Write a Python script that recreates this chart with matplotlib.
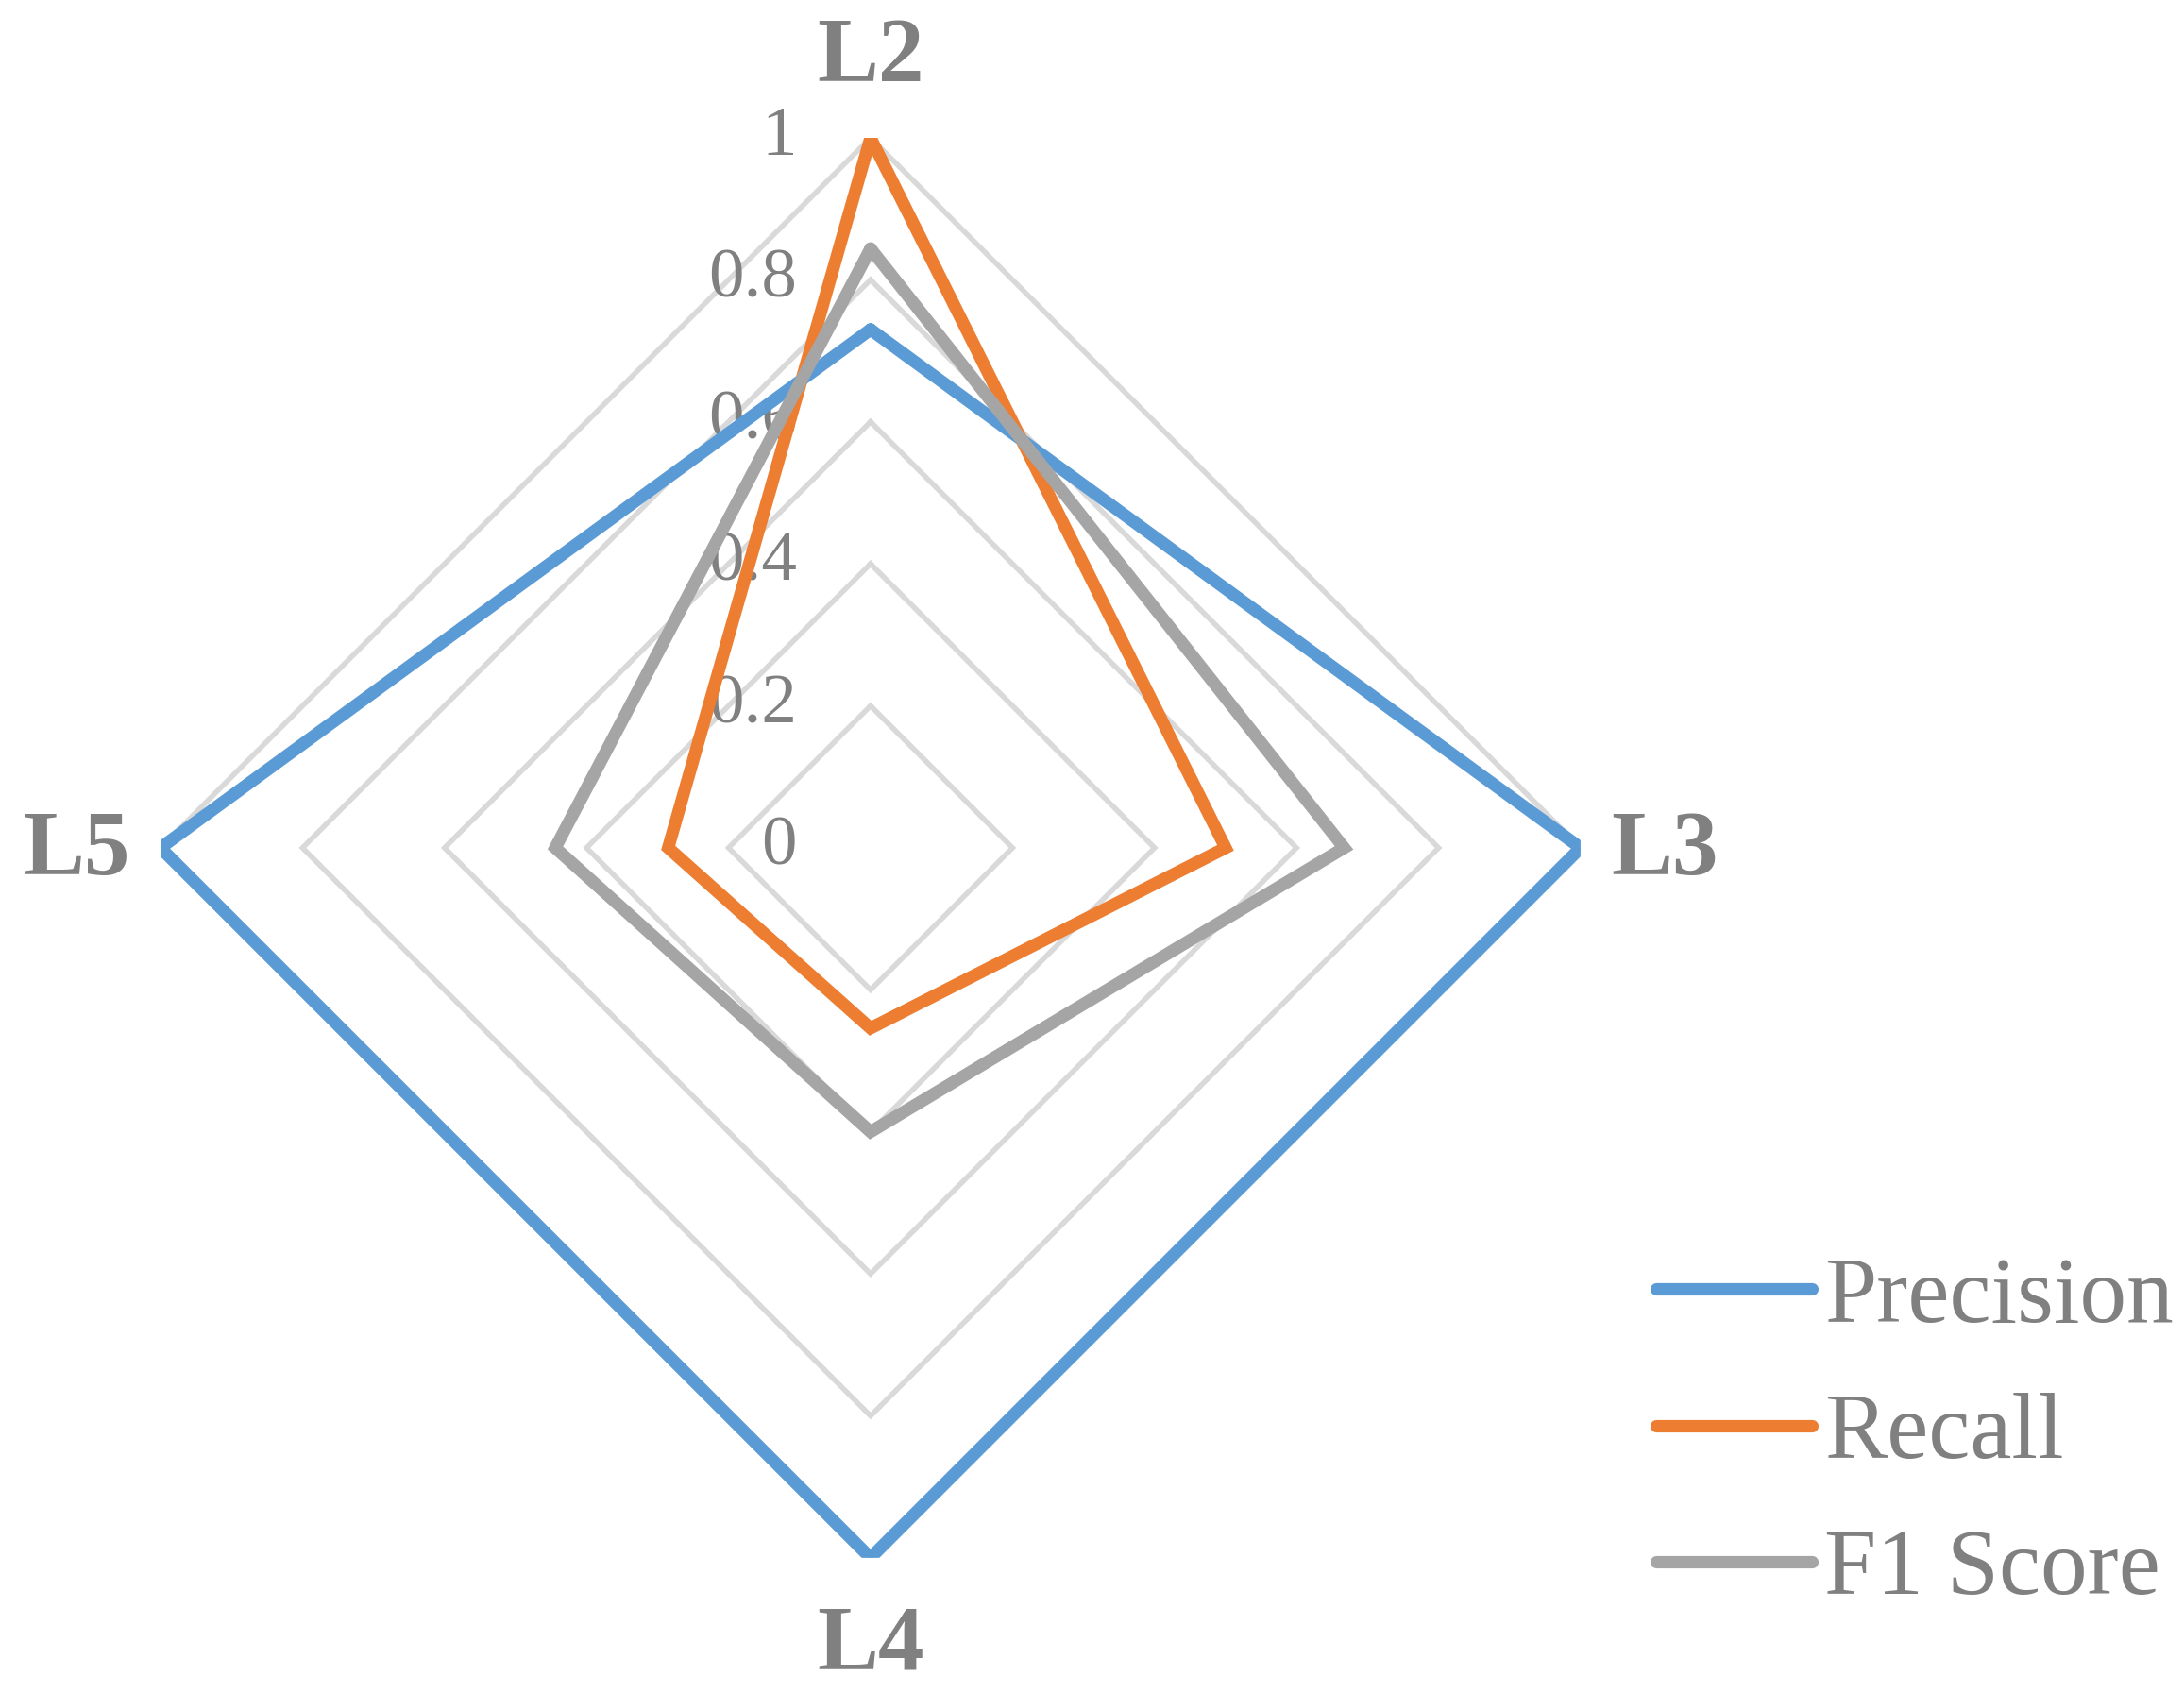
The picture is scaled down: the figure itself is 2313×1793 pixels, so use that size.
import numpy as np
import matplotlib
matplotlib.use('Agg')
import matplotlib.pyplot as plt

plt.rcParams['font.family'] = ['Liberation Serif', 'DejaVu Serif']

# axis categories, clockwise from top
CATEGORIES = ['L2', 'L3', 'L4', 'L5']
PRECISION = [0.73, 1.0, 1.0, 1.0]
RECALL = [1.0, 0.50, 0.254, 0.285]
F1_SCORE = [0.844, 0.667, 0.40, 0.444]
SERIES_NAMES = ['Precision', 'Recall', 'F1 Score']
RING_VALUES = [0.2, 0.4, 0.6, 0.8, 1.0]
RING_LABELS = ['0', '0.2', '0.4', '0.6', '0.8', '1']

COLORS = ['#5B9BD5', '#ED7D31', '#A5A5A5']
GRID_COLOR = '#D9D9D9'
TEXT_COLOR = '#808080'


def closed(vals):
    return list(vals) + [vals[0]]


def main():
    fig = plt.figure(figsize=(23.13, 17.93), dpi=100)
    ax = fig.add_axes([0.0735, 0.0798, 0.6502, 0.8388], projection='polar')
    ax.set_theta_offset(np.pi / 2)
    ax.set_theta_direction(-1)
    ax.set_ylim(0, 1)
    ax.grid(False)
    ax.set_frame_on(False)
    ax.set_xticks([])
    ax.set_yticks([])

    n = len(CATEGORIES)
    theta = np.arange(n) * 2 * np.pi / n
    th = closed(theta)

    # diamond grid rings
    for rv in RING_VALUES:
        ax.plot(th, [rv] * (n + 1), color=GRID_COLOR, lw=4, zorder=1,
                solid_joinstyle='miter')

    # ring value labels along the top axis
    for rv, lab in zip([0.0] + RING_VALUES, RING_LABELS):
        ax.annotate(lab, xy=(0, rv), xytext=(-78, 0), textcoords='offset pixels',
                    ha='right', va='center', fontsize=54, color=TEXT_COLOR,
                    zorder=2, annotation_clip=False)

    for vals, name, col in zip([PRECISION, RECALL, F1_SCORE], SERIES_NAMES, COLORS):
        ax.plot(th, closed(vals), color=col, lw=9.5, label=name, zorder=3,
                solid_joinstyle='miter', solid_capstyle='round')

    for t, cat in zip(theta, CATEGORIES):
        ax.annotate(cat, xy=(t, 1.118), xytext=(0, -5), textcoords='offset pixels',
                    ha='center', va='center', fontsize=70, fontweight='bold',
                    color=TEXT_COLOR, annotation_clip=False)

    leg = fig.legend(loc='upper left', bbox_to_anchor=(0.741, 0.280),
                     frameon=False, fontsize=71.5, handlelength=1.66,
                     handletextpad=0.14, labelspacing=0.54, borderaxespad=0)
    for txt in leg.get_texts():
        txt.set_color(TEXT_COLOR)
    for line in leg.get_lines():
        line.set_solid_capstyle('round')
        line.set_linewidth(9.5)

    fig.savefig('out.png', dpi=100, facecolor='white')


if __name__ == '__main__':
    main()
